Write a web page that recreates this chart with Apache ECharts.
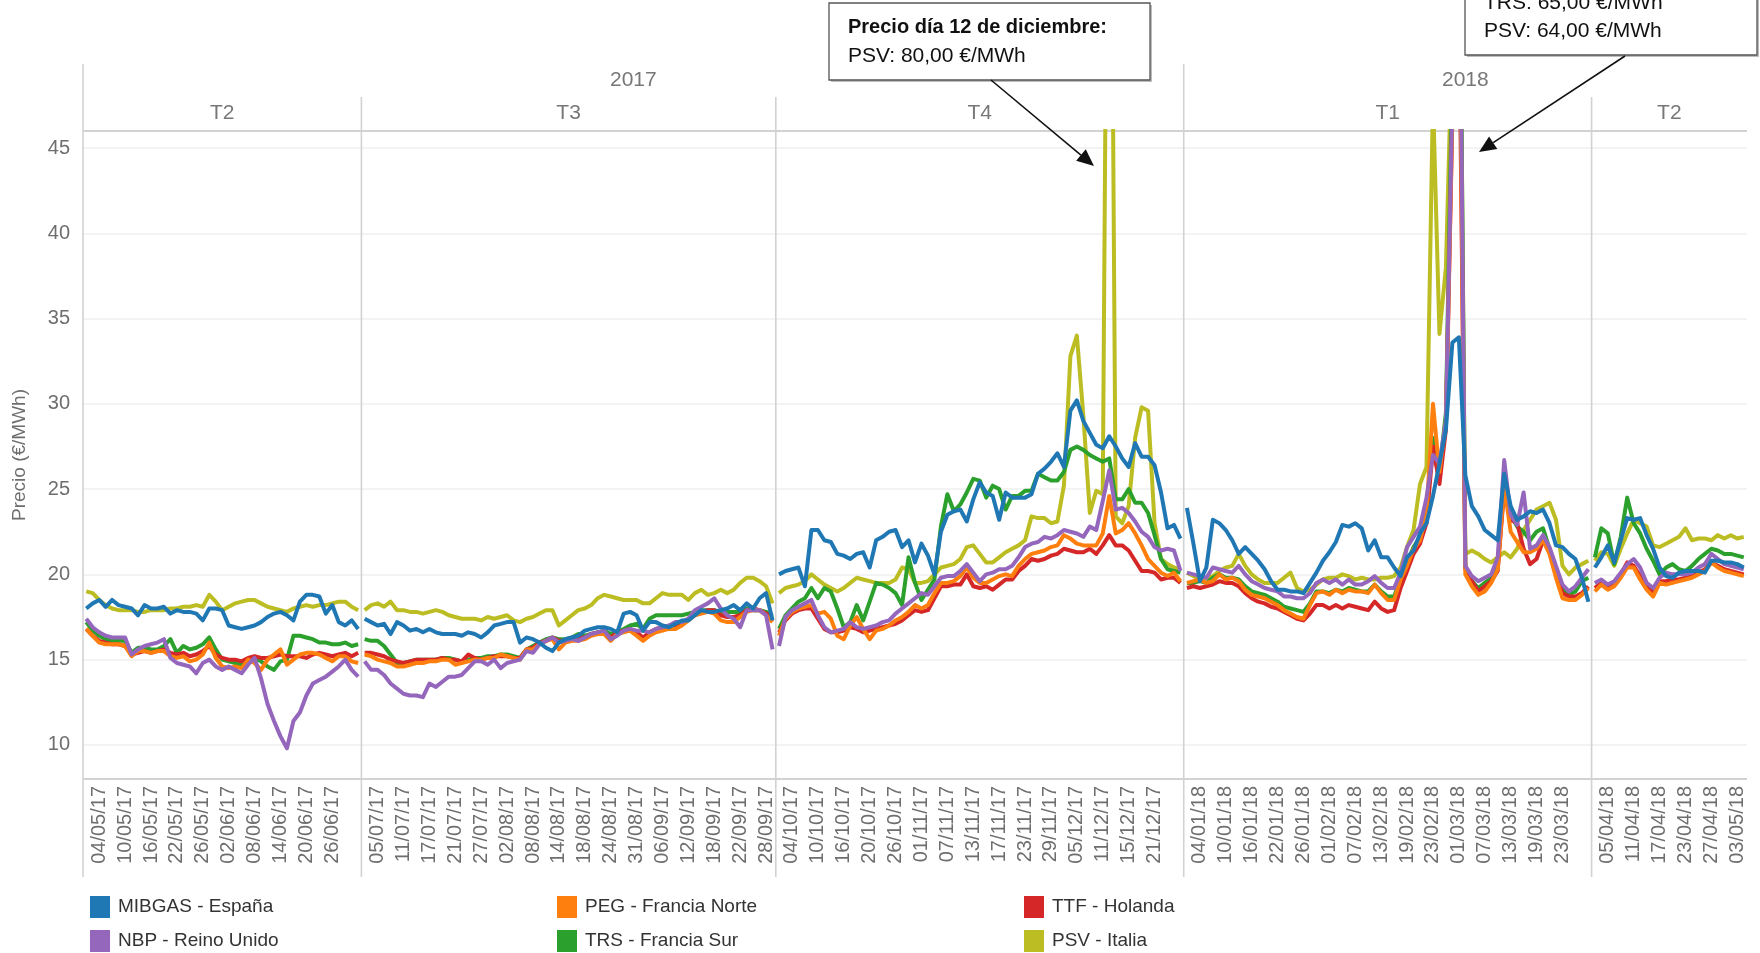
<!DOCTYPE html>
<html><head><meta charset="utf-8">
<script src="https://cdn.jsdelivr.net/npm/echarts@6/dist/echarts.min.js"></script>
<style>html,body{margin:0;padding:0;background:#fff}#c{width:1760px;height:953px}</style>
</head><body><div id="c"></div>
<script>
// ---- categories (trading days) per panel ----
const datesT2_17 = '02/05/17 03/05/17 04/05/17 05/05/17 08/05/17 09/05/17 10/05/17 11/05/17 12/05/17 15/05/17 16/05/17 17/05/17 18/05/17 19/05/17 22/05/17 23/05/17 24/05/17 25/05/17 26/05/17 30/05/17 31/05/17 01/06/17 02/06/17 05/06/17 06/06/17 07/06/17 08/06/17 09/06/17 12/06/17 13/06/17 14/06/17 15/06/17 16/06/17 19/06/17 20/06/17 21/06/17 22/06/17 23/06/17 26/06/17 27/06/17 28/06/17 29/06/17 30/06/17'.split(' ');
const datesT3_17 = '03/07/17 04/07/17 05/07/17 06/07/17 07/07/17 10/07/17 11/07/17 12/07/17 13/07/17 14/07/17 17/07/17 18/07/17 19/07/17 20/07/17 21/07/17 24/07/17 25/07/17 26/07/17 27/07/17 28/07/17 31/07/17 01/08/17 02/08/17 03/08/17 04/08/17 07/08/17 08/08/17 09/08/17 10/08/17 11/08/17 14/08/17 15/08/17 16/08/17 17/08/17 18/08/17 21/08/17 22/08/17 23/08/17 24/08/17 25/08/17 29/08/17 30/08/17 31/08/17 01/09/17 04/09/17 05/09/17 06/09/17 07/09/17 08/09/17 11/09/17 12/09/17 13/09/17 14/09/17 15/09/17 18/09/17 19/09/17 20/09/17 21/09/17 22/09/17 25/09/17 26/09/17 27/09/17 28/09/17 29/09/17'.split(' ');
const datesT4_17 = '02/10/17 03/10/17 04/10/17 05/10/17 06/10/17 09/10/17 10/10/17 11/10/17 12/10/17 13/10/17 16/10/17 17/10/17 18/10/17 19/10/17 20/10/17 23/10/17 24/10/17 25/10/17 26/10/17 27/10/17 30/10/17 31/10/17 01/11/17 02/11/17 03/11/17 06/11/17 07/11/17 08/11/17 09/11/17 10/11/17 13/11/17 14/11/17 15/11/17 16/11/17 17/11/17 20/11/17 21/11/17 22/11/17 23/11/17 24/11/17 27/11/17 28/11/17 29/11/17 30/11/17 01/12/17 04/12/17 05/12/17 06/12/17 07/12/17 08/12/17 11/12/17 12/12/17 13/12/17 14/12/17 15/12/17 18/12/17 19/12/17 20/12/17 21/12/17 22/12/17 27/12/17 28/12/17 29/12/17'.split(' ');
const datesT1_18 = '02/01/18 03/01/18 04/01/18 05/01/18 08/01/18 09/01/18 10/01/18 11/01/18 12/01/18 15/01/18 16/01/18 17/01/18 18/01/18 19/01/18 22/01/18 23/01/18 24/01/18 25/01/18 26/01/18 29/01/18 30/01/18 31/01/18 01/02/18 02/02/18 05/02/18 06/02/18 07/02/18 08/02/18 09/02/18 12/02/18 13/02/18 14/02/18 15/02/18 16/02/18 19/02/18 20/02/18 21/02/18 22/02/18 23/02/18 26/02/18 27/02/18 28/02/18 01/03/18 02/03/18 05/03/18 06/03/18 07/03/18 08/03/18 09/03/18 12/03/18 13/03/18 14/03/18 15/03/18 16/03/18 19/03/18 20/03/18 21/03/18 22/03/18 23/03/18 26/03/18 27/03/18 28/03/18 29/03/18'.split(' ');
const datesT2_18 = '03/04/18 04/04/18 05/04/18 06/04/18 09/04/18 10/04/18 11/04/18 12/04/18 13/04/18 16/04/18 17/04/18 18/04/18 19/04/18 20/04/18 23/04/18 24/04/18 25/04/18 26/04/18 27/04/18 30/04/18 01/05/18 02/05/18 03/05/18 04/05/18'.split(' ');

const quarterLabels = ['T2', 'T3', 'T4', 'T1', 'T2'];
const yearLabels = ['2017', '2018'];
const yearPanelStart = [0, 3];          // first panel index of each year
const yTickLabels = [10, 15, 20, 25, 30, 35, 40, 45];

// ---- series values (€/MWh), one value per trading day, panels in order ----
const mibgas = [
 18.0,18.3,18.5,18.1,18.5,18.2,18.1,18.0,17.6,18.2,18.0,18.0,18.1,17.7,17.9,17.8,17.8,17.7,17.3,18.0,18.0,17.9,17.0,16.9,16.8,16.9,17.0,17.2,17.5,17.7,17.8,17.6,17.3,18.4,18.8,18.8,18.7,17.7,18.2,17.2,17.0,17.3,16.8,
 17.4,17.2,17.0,17.1,16.5,17.2,17.0,16.7,16.8,16.6,16.8,16.6,16.5,16.5,16.5,16.4,16.6,16.5,16.3,16.6,17.0,17.1,17.2,17.2,16.0,16.3,16.2,16.0,15.7,15.5,16.0,16.2,16.3,16.4,16.7,16.8,16.9,16.9,16.8,16.6,17.7,17.8,17.6,16.7,17.2,17.2,17.0,16.9,17.1,17.3,17.3,17.6,17.9,17.8,17.8,17.9,18.0,18.2,17.9,18.3,18.0,18.6,18.9,17.3,
 20.0,20.2,20.3,20.4,19.3,22.6,22.6,22.0,21.9,21.2,21.1,20.9,21.2,21.3,20.4,22.0,22.2,22.5,22.6,21.6,22.0,20.7,21.8,21.1,20.0,22.5,23.5,23.7,23.8,23.1,24.4,25.4,24.8,24.6,23.2,24.8,24.5,24.5,24.5,24.7,25.9,26.2,26.6,27.1,26.3,29.6,30.2,29.0,28.3,27.6,27.4,28.1,27.5,26.8,26.3,27.7,26.9,26.9,26.4,24.8,22.7,22.9,22.1,
 23.9,21.8,19.6,20.4,23.2,23.0,22.6,22.0,21.2,21.6,21.2,20.8,20.3,19.6,19.1,19.1,19.0,19.0,18.9,19.5,20.1,20.8,21.3,21.9,22.9,22.8,23.0,22.7,21.4,22.0,21.0,21.0,20.4,19.9,21.0,21.4,22.4,23.0,24.6,26.5,28.5,33.6,33.9,25.8,24.0,23.4,22.6,22.3,22.0,25.9,24.0,23.2,23.4,23.7,23.6,23.8,23.0,21.7,21.6,21.2,20.9,19.8,18.4,
 20.4,21.0,21.7,20.7,22.0,23.3,23.2,23.3,22.3,21.5,20.4,19.9,19.8,20.1,20.2,20.2,20.2,20.1,20.8,20.8,20.7,20.7,20.6,20.4
];
const psv = [
 19.0,18.9,18.5,18.2,18.0,17.9,17.9,17.9,17.8,17.8,17.9,17.9,17.9,18.0,18.0,18.1,18.1,18.2,18.1,18.8,18.4,17.9,18.1,18.3,18.4,18.5,18.5,18.3,18.1,18.0,17.9,17.8,18.0,18.1,18.2,18.1,18.2,18.2,18.3,18.4,18.4,18.1,17.9,
 17.9,18.2,18.3,18.1,18.4,17.9,17.9,17.8,17.8,17.7,17.8,17.9,17.8,17.6,17.5,17.4,17.4,17.4,17.3,17.5,17.4,17.5,17.6,17.3,17.2,17.4,17.5,17.7,17.9,17.9,17.0,17.3,17.6,17.9,18.0,18.2,18.6,18.8,18.7,18.6,18.5,18.5,18.5,18.3,18.3,18.6,18.9,18.8,18.8,18.8,18.5,18.9,19.1,18.8,18.9,19.1,18.9,19.1,19.5,19.8,19.8,19.6,19.3,18.3,
 18.9,19.2,19.3,19.4,19.6,20.0,19.7,19.4,19.2,19.0,19.2,19.5,19.8,19.7,19.6,19.5,19.5,19.5,19.7,20.4,20.3,19.5,19.5,19.6,20.0,20.4,20.5,20.6,20.9,21.6,21.7,21.2,20.7,20.7,21.0,21.3,21.5,21.7,22.0,23.4,23.3,23.3,23.0,23.1,25.2,32.8,34.0,29.3,23.6,24.9,24.7,80.0,23.4,23.0,24.0,28.0,29.8,29.6,23.0,20.9,20.6,20.4,20.3,
 20.1,19.9,19.7,19.8,19.9,20.2,20.4,20.5,21.2,20.5,20.0,19.7,19.5,19.5,19.5,19.8,20.1,19.2,19.0,19.1,19.4,19.7,19.8,19.8,20.0,19.9,19.7,19.8,19.7,19.7,19.8,19.8,19.9,20.4,21.6,22.6,25.3,26.3,48.0,34.1,38.0,52.0,64.0,21.2,21.4,21.2,20.9,20.7,21.0,21.3,21.0,21.5,22.6,23.2,23.8,24.0,24.2,23.2,20.5,20.0,20.4,20.6,20.8,
 20.8,21.3,21.2,20.5,21.5,22.4,23.2,23.0,22.8,21.7,21.6,21.8,22.0,22.2,22.7,22.0,22.1,22.1,22.0,22.3,22.1,22.3,22.1,22.2
];
const trs = [
 17.2,16.7,16.4,16.2,16.1,16.1,16.1,15.4,15.7,15.7,15.6,15.6,15.8,16.2,15.4,15.8,15.6,15.7,15.9,16.3,15.6,15.0,14.9,14.8,14.7,15.0,15.1,14.9,14.6,14.4,14.9,15.0,16.4,16.4,16.3,16.2,16.0,16.0,15.9,15.9,16.0,15.8,15.9,
 16.2,16.1,16.1,15.8,15.3,14.8,14.8,14.9,15.0,15.0,15.0,15.0,15.1,15.1,15.0,14.9,15.0,15.1,15.1,15.2,15.2,15.3,15.3,15.2,15.1,15.6,15.8,16.0,16.2,16.3,16.2,16.2,16.3,16.5,16.4,16.5,16.6,16.7,16.5,16.6,16.8,17.0,17.1,16.8,17.4,17.6,17.6,17.6,17.6,17.6,17.7,17.8,17.9,17.9,17.9,17.8,17.8,17.8,17.8,18.0,17.9,17.9,17.8,17.6,
 16.8,17.6,18.0,18.4,18.6,19.2,18.6,19.2,19.0,18.0,16.9,17.2,18.2,17.3,18.4,19.5,19.4,19.2,18.9,18.2,21.0,19.5,18.5,19.1,19.7,22.8,24.7,23.7,24.1,24.8,25.6,25.5,24.5,25.2,25.0,23.8,24.6,24.6,24.9,24.9,25.9,25.7,25.5,25.5,26.0,27.3,27.5,27.3,27.0,26.8,26.6,26.8,24.4,24.4,25.0,24.2,24.2,23.6,22.3,20.9,20.3,20.2,20.1,
 19.5,19.5,19.6,19.5,19.8,20.0,19.8,19.8,19.7,19.3,19.0,18.9,18.8,18.6,18.4,18.1,18.0,17.9,17.8,18.3,19.0,19.0,18.9,19.1,19.0,19.2,19.1,19.0,19.0,19.4,19.0,18.7,18.7,19.8,20.7,21.6,22.2,23.8,28.0,26.0,29.5,50.0,65.0,20.4,19.6,19.2,19.5,19.8,20.5,25.5,23.5,22.8,22.5,22.0,22.5,22.7,21.5,20.3,19.2,18.8,19.0,19.6,19.8,
 21.0,22.7,22.4,20.6,22.2,24.5,23.0,22.4,21.5,20.8,20.0,20.4,20.6,20.3,20.2,20.5,20.9,21.2,21.5,21.4,21.2,21.2,21.1,21.0
];
const ttf = [
 16.8,16.4,16.1,16.0,15.9,15.9,15.8,15.3,15.4,15.5,15.4,15.5,15.6,15.4,15.3,15.4,15.2,15.3,15.5,15.8,15.3,15.1,15.0,15.0,14.9,15.1,15.2,15.1,15.1,15.2,15.3,15.2,15.2,15.2,15.1,15.3,15.4,15.3,15.2,15.3,15.4,15.2,15.4,
 15.4,15.4,15.3,15.2,15.0,14.9,14.8,14.9,15.0,15.0,15.0,15.0,15.1,15.0,15.0,14.9,15.3,15.1,15.0,15.1,15.2,15.2,15.2,15.1,15.1,15.6,15.7,16.0,16.1,16.3,16.1,16.1,16.2,16.3,16.3,16.5,16.6,16.6,16.3,16.6,16.7,16.8,16.6,16.3,16.6,16.8,16.9,16.9,17.0,17.2,17.4,17.6,17.8,17.9,17.9,17.6,17.5,17.5,17.6,17.9,18.0,17.9,17.7,17.5,
 16.6,17.3,17.7,17.9,18.0,18.0,17.4,16.8,16.6,16.6,16.7,16.9,16.8,16.6,16.7,16.8,16.9,17.0,17.1,17.3,17.6,17.9,17.8,17.9,18.6,19.3,19.3,19.4,19.4,20.0,19.3,19.2,19.3,19.1,19.4,19.7,19.7,20.2,20.5,20.9,20.8,20.9,21.1,21.2,21.5,21.4,21.3,21.3,21.5,21.2,21.7,22.3,21.7,21.7,21.4,20.8,20.2,20.2,20.1,19.7,19.8,19.8,19.5,
 19.2,19.3,19.2,19.3,19.4,19.6,19.5,19.5,19.3,18.9,18.6,18.4,18.3,18.1,18.0,17.8,17.6,17.4,17.3,17.7,18.2,18.2,18.0,18.2,18.0,18.2,18.1,18.0,17.9,18.4,18.0,17.8,17.9,19.2,20.2,21.2,21.8,23.0,27.5,25.3,28.5,47.0,55.0,20.3,19.6,19.0,19.3,19.6,20.2,25.0,23.2,23.0,21.5,20.6,20.9,22.0,21.3,20.0,18.9,18.7,18.7,18.9,19.3,
 19.2,19.5,19.3,19.5,20.0,20.7,20.5,19.9,19.3,19.0,19.6,19.6,19.7,19.7,19.8,19.9,20.1,20.3,20.7,20.5,20.3,20.2,20.1,20.0
];
const peg = [
 16.8,16.4,16.0,15.9,15.9,15.9,15.8,15.2,15.5,15.5,15.4,15.5,15.5,15.2,15.1,15.2,14.9,15.0,15.3,16.0,15.1,14.6,14.5,14.6,14.5,15.0,14.8,14.4,15.0,15.3,15.6,14.7,15.0,15.3,15.4,15.4,15.3,15.1,14.9,15.2,15.2,14.9,14.8,
 15.3,15.2,15.0,14.9,14.8,14.6,14.6,14.7,14.8,14.8,14.9,14.9,15.0,15.0,14.7,14.8,14.9,15.0,15.0,15.1,15.1,15.3,15.2,15.1,15.0,15.6,15.6,15.9,16.1,16.2,15.6,16.0,16.1,16.1,16.2,16.4,16.5,16.5,16.1,16.5,16.6,16.7,16.4,16.1,16.4,16.6,16.7,16.8,16.8,17.0,17.3,17.6,17.7,17.8,17.7,17.3,17.2,17.2,17.5,17.8,17.9,17.9,17.6,17.2,
 16.4,17.4,17.8,18.0,18.1,18.2,17.7,17.8,17.4,16.4,16.2,17.0,17.5,16.8,16.2,16.7,16.8,17.0,17.3,17.5,17.8,18.2,18.0,18.2,18.9,19.5,19.5,19.6,19.9,20.4,19.8,19.5,19.5,19.7,19.9,20.0,19.9,20.5,20.9,21.2,21.3,21.4,21.6,21.7,22.3,22.1,21.8,21.7,21.7,21.7,22.4,24.6,22.4,22.6,23.0,22.4,21.7,20.9,20.5,20.1,19.9,20.1,19.6,
 19.5,19.6,19.7,19.5,19.6,20.0,19.7,19.8,19.6,19.1,18.8,18.7,18.6,18.4,18.2,17.9,17.7,17.5,17.4,18.2,18.9,19.0,18.8,19.1,18.9,19.1,19.0,19.0,18.9,19.4,18.9,18.5,18.5,19.7,20.5,21.5,22.0,23.5,30.0,26.0,29.0,47.0,58.0,20.0,19.3,18.8,19.0,19.5,20.3,25.2,22.5,21.9,21.3,21.3,21.5,22.0,21.2,19.8,18.6,18.5,18.5,18.8,19.2,
 19.0,19.4,19.1,19.3,19.8,20.4,20.4,19.7,19.1,18.7,19.5,19.4,19.5,19.6,19.7,19.8,20.0,20.2,20.7,20.4,20.2,20.1,20.0,19.9
];
const nbp = [
 17.4,16.9,16.6,16.4,16.3,16.3,16.3,15.3,15.6,15.8,15.9,16.0,16.2,15.1,14.8,14.7,14.6,14.2,14.8,15.0,14.6,14.4,14.6,14.4,14.2,14.7,15.1,13.9,12.4,11.4,10.5,9.8,11.4,11.9,12.9,13.6,13.8,14.0,14.3,14.6,15.0,14.4,14.0,
 14.9,14.4,14.4,14.1,13.6,13.3,13.0,12.9,12.9,12.8,13.6,13.4,13.7,14.0,14.0,14.1,14.5,14.9,14.9,14.7,15.0,14.5,14.8,14.9,15.0,15.5,15.4,15.9,16.1,16.3,16.0,16.1,16.2,16.1,16.3,16.5,16.6,16.7,16.2,16.4,16.7,16.8,16.7,16.7,16.6,16.8,16.9,17.0,17.2,17.2,17.4,17.9,18.1,18.3,18.6,18.0,17.6,17.4,16.9,17.9,17.9,17.9,17.6,15.6,
 15.8,17.5,17.9,18.1,18.3,18.5,17.6,16.9,16.6,16.7,16.8,17.2,16.9,16.8,16.9,17.0,17.2,17.3,17.7,18.0,18.3,18.6,18.9,18.8,19.3,19.8,19.9,19.9,20.2,20.6,20.1,19.6,20.0,20.1,20.3,20.3,20.5,21.0,21.6,21.8,21.9,22.2,22.1,22.3,22.6,22.5,22.4,22.2,22.8,22.6,24.3,26.1,23.8,23.9,23.6,23.1,22.5,22.2,21.6,21.4,21.5,21.4,20.2,
 20.1,20.0,19.9,19.8,20.4,20.3,20.2,20.1,20.5,20.0,19.6,19.4,19.2,19.1,19.0,18.7,18.7,18.6,18.6,18.9,19.5,19.7,19.5,19.7,19.4,19.7,19.4,19.4,19.6,19.9,19.5,19.2,19.2,20.1,21.6,22.2,22.8,24.5,27.0,26.5,29.0,48.0,62.0,20.5,19.9,19.6,19.8,20.0,21.0,26.7,23.5,22.9,24.8,21.5,21.7,22.3,21.6,20.5,19.4,19.0,19.3,19.8,20.3,
 19.5,19.7,19.4,19.6,20.1,20.6,20.9,20.4,19.5,19.2,19.8,20.1,20.0,20.0,20.0,20.1,20.4,20.6,21.2,20.9,20.6,20.5,20.4,20.3
];

const seriesNames = ['PSV - Italia', 'TRS - Francia Sur', 'TTF - Holanda', 'PEG - Francia Norte', 'NBP - Reino Unido', 'MIBGAS - España'];
const seriesColors = ['#bcbd22', '#2ca02c', '#d62728', '#ff7f0e', '#9467bd', '#1f77b4'];
const seriesValues = [psv, trs, ttf, peg, nbp, mibgas];

// ---- layout ----
const panelDates = [datesT2_17, datesT3_17, datesT4_17, datesT1_18, datesT2_18];
const PLOT = { left: 83, right: 1747, top: 131, bottom: 779 };
const FONT = "'Liberation Sans', Arial, sans-serif";
const total = panelDates.reduce((s, d) => s + d.length, 0);
const cw = (PLOT.right - PLOT.left) / total;
let acc = 0;
const panels = panelDates.map(d => {
  const start = acc; const x0 = PLOT.left + acc * cw; acc += d.length;
  return { start, n: d.length, x0, x1: PLOT.left + acc * cw };
});

const grids = [], xAxes = [], yAxes = [], series = [];
panels.forEach((p, i) => {
  grids.push({ left: p.x0, width: p.x1 - p.x0, top: PLOT.top, height: PLOT.bottom - PLOT.top, containLabel: false, outerBoundsMode: 'none' });
  xAxes.push({
    type: 'category', gridIndex: i, data: panelDates[i], boundaryGap: true,
    axisLine: { show: false }, axisTick: { show: false }, splitLine: { show: false },
    axisLabel: { interval: 0, hideOverlap: false,
      formatter: (v, idx) => (idx % 4 === 2 && idx < p.n - 1 ? v : ''),
      rotate: 90, fontSize: 20, color: '#6e6e6e', margin: 7, fontFamily: FONT }
  });
  yAxes.push({
    type: 'value', gridIndex: i, min: 8, max: 46, splitNumber: 8,
    axisLine: { show: false }, axisTick: { show: false },
    splitLine: { show: true, lineStyle: { color: '#efefef', width: 1.5 } },
    axisLabel: { show: i === 0, fontSize: 20, color: '#6e6e6e', margin: 13, fontFamily: FONT,
      formatter: v => (yTickLabels.indexOf(v) >= 0 ? String(v) : '') }
  });
  seriesNames.forEach((name, k) => {
    series.push({
      type: 'line', name, xAxisIndex: i, yAxisIndex: i, color: seriesColors[k],
      data: seriesValues[k].slice(p.start, p.start + p.n),
      symbol: 'none', clip: true, silent: true,
      lineStyle: { width: 4, color: seriesColors[k], join: 'round' }
    });
  });
});

// ---- decorations ----
const g = [];
const GRID_LINE = '#d2d2d2';
function line(x1, y1, x2, y2, c, w, z) { g.push({ type: 'line', z: z || 1, silent: true, shape: { x1, y1, x2, y2 }, style: { stroke: c, lineWidth: w } }); }
function text(x, y, t, opt, z) { g.push({ type: 'text', z: z || 5, silent: true, x, y, style: Object.assign({ text: t, font: '21px ' + FONT, fill: '#777', textAlign: 'center', textVerticalAlign: 'middle' }, opt || {}) }); }
// panel dividers
line(PLOT.left, 64, PLOT.left, 877, GRID_LINE, 1.6);
yearPanelStart.forEach(pi => { if (pi > 0) line(panels[pi].x0, 64, panels[pi].x0, 877, GRID_LINE, 1.6); });
panels.forEach((p, i) => { if (i > 0 && yearPanelStart.indexOf(i) < 0) line(p.x0, 97, p.x0, 877, GRID_LINE, 1.6); });
line(PLOT.left, PLOT.top, PLOT.right, PLOT.top, GRID_LINE, 2);
line(PLOT.left, PLOT.bottom, PLOT.right, PLOT.bottom, GRID_LINE, 2);
// headers
yearLabels.forEach((yl, k) => {
  const a = panels[yearPanelStart[k]].x0;
  const b = k + 1 < yearPanelStart.length ? panels[yearPanelStart[k + 1]].x0 : PLOT.right;
  text((a + b) / 2, 80, yl);
});
panels.forEach((p, i) => text((p.x0 + p.x1) / 2, 113, quarterLabels[i]));
// y axis title
g.push({ type: 'text', z: 5, silent: true, x: 20, y: 455, rotation: Math.PI / 2,
  style: { text: 'Precio (€/MWh)', font: '19px ' + FONT, fill: '#6e6e6e', textAlign: 'center', textVerticalAlign: 'middle' } });

// annotations
function box(x, y, w, h) {
  g.push({ type: 'rect', z: 90, silent: true, shape: { x: x + 2, y: y + 2, width: w, height: h }, style: { fill: '#bdbdbd' } });
  g.push({ type: 'rect', z: 91, silent: true, shape: { x, y, width: w, height: h }, style: { fill: '#fff', stroke: '#555', lineWidth: 1.3 } });
}
function arrow(x1, y1, x2, y2) {
  const ang = Math.atan2(y2 - y1, x2 - x1), L = 17, H = 7.5;
  const bx = x2 - L * Math.cos(ang), by = y2 - L * Math.sin(ang);
  line(x1, y1, bx, by, '#111', 1.6, 95);
  g.push({ type: 'polygon', z: 95, silent: true, shape: { points: [[x2, y2], [bx + H * Math.sin(ang), by - H * Math.cos(ang)], [bx - H * Math.sin(ang), by + H * Math.cos(ang)]] }, style: { fill: '#111' } });
}
box(829, 3, 321, 77);
text(848, 27, 'Precio día 12 de diciembre:', { font: 'bold 20px ' + FONT, fill: '#111', textAlign: 'left' }, 96);
text(848, 56, 'PSV: 80,00 €/MWh', { font: '21px ' + FONT, fill: '#111', textAlign: 'left' }, 96);
arrow(991, 80, 1094, 166);

box(1465, -45, 292, 100);
text(1484, -26, 'Precio día 1 de marzo:', { font: 'bold 20px ' + FONT, fill: '#111', textAlign: 'left' }, 96);
text(1484, 3, 'TRS: 65,00 €/MWh', { font: '21px ' + FONT, fill: '#111', textAlign: 'left' }, 96);
text(1484, 31, 'PSV: 64,00 €/MWh', { font: '21px ' + FONT, fill: '#111', textAlign: 'left' }, 96);
arrow(1625, 56, 1479, 152);

const legendCommon = { orient: 'vertical', icon: 'rect', itemWidth: 20, itemHeight: 22, itemGap: 12, padding: 0, selectedMode: false,
  textStyle: { fontSize: 19, color: '#333', fontFamily: FONT, padding: [0, 0, 0, 3] } };

const chart = echarts.init(document.getElementById('c'), null, { renderer: 'canvas' });
chart.setOption({
  animation: false,
  backgroundColor: '#fff',
  grid: grids, xAxis: xAxes, yAxis: yAxes, series,
  legend: [
    Object.assign({ left: 90, top: 896, data: ['MIBGAS - España', 'NBP - Reino Unido'] }, legendCommon),
    Object.assign({ left: 557, top: 896, data: ['PEG - Francia Norte', 'TRS - Francia Sur'] }, legendCommon),
    Object.assign({ left: 1024, top: 896, data: ['TTF - Holanda', 'PSV - Italia'] }, legendCommon)
  ],
  graphic: { elements: g }
});
</script></body></html>
